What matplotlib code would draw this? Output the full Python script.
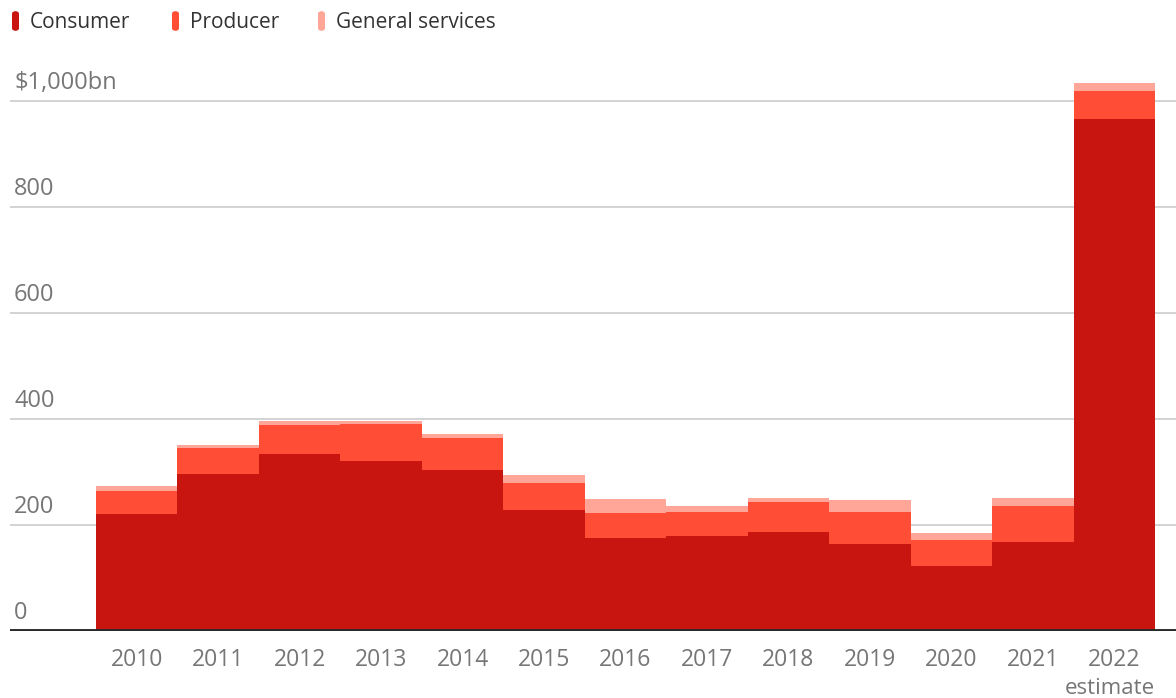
import matplotlib.pyplot as plt
from matplotlib.patches import FancyBboxPatch
from matplotlib.transforms import blended_transform_factory, offset_copy
import numpy as np

plt.rcParams['font.family'] = ['Open Sans', 'DejaVu Sans']

years = ["2010", "2011", "2012", "2013", "2014", "2015", "2016",
         "2017", "2018", "2019", "2020", "2021", "2022"]
consumer = [221, 296, 334, 321, 304, 228, 175, 180, 187, 164, 123, 167, 966]
producer = [43, 49, 55, 69, 60, 51, 48, 45, 56, 61, 49, 69, 53]
general = [10, 6, 7, 7, 8, 15, 26, 11, 7, 22, 13, 14, 14]

series_names = ["Consumer", "Producer", "General services"]
colors = ["#c8150f", "#ff4d36", "#ffa699"]

y_ticks = [0, 200, 400, 600, 800, 1000]
y_labels = ["0", "200", "400", "600", "800", "$1,000bn"]


def main():
    fig = plt.figure(figsize=(11.76, 6.98), dpi=100)
    ax = fig.add_axes([10 / 1176, 67 / 698, 1166 / 1176, 571 / 698])

    x = np.arange(len(years))
    bottom = np.zeros(len(years))
    for vals, c in zip([consumer, producer, general], colors):
        ax.bar(x, vals, width=1.0, bottom=bottom, color=c, linewidth=0, zorder=2)
        bottom += np.array(vals)

    ax.set_xlim(-1.556, 12.758)
    ax.set_ylim(0, 1077)

    # gridlines
    for t in y_ticks[1:]:
        ax.axhline(t, color="#cccccc", linewidth=1.2, zorder=1)
    ax.axhline(0, color="#2a2a2a", linewidth=2.8, zorder=3)

    # y labels sit above the gridlines
    trans = blended_transform_factory(ax.transAxes, ax.transData)
    trans = offset_copy(trans, fig=fig, x=4, y=12, units="dots")
    for t, lab in zip(y_ticks, y_labels):
        ax.text(0, t, lab, transform=trans, ha="left", va="baseline",
                fontsize=17, color="#767676")

    ax.set_xticks(x)
    ax.set_xticklabels(years, fontsize=16.5, color="#767676")
    ax.tick_params(axis="x", length=0, pad=12)
    ax.set_yticks([])
    ax.text(12.5, -(688 - 631) / 571, "estimate",
            transform=blended_transform_factory(ax.transData, ax.transAxes),
            ha="right", va="center", fontsize=16, color="#767676")
    for s in ax.spines.values():
        s.set_visible(False)

    # legend
    leg_x = [12, 172, 318]
    for name, c, lx in zip(series_names, colors, leg_x):
        fig.patches.append(FancyBboxPatch((lx / 1176, 1 - 31 / 698), 7 / 1176, 20 / 698,
                                          boxstyle="round,pad=0,rounding_size=0.004",
                                          transform=fig.transFigure, facecolor=c,
                                          edgecolor="none"))
        fig.text((lx + 18) / 1176, 1 - 23 / 698, name, fontsize=15,
                 color="#333333", va="center", ha="left")

    fig.savefig("out.png", dpi=100)


if __name__ == "__main__":
    main()
